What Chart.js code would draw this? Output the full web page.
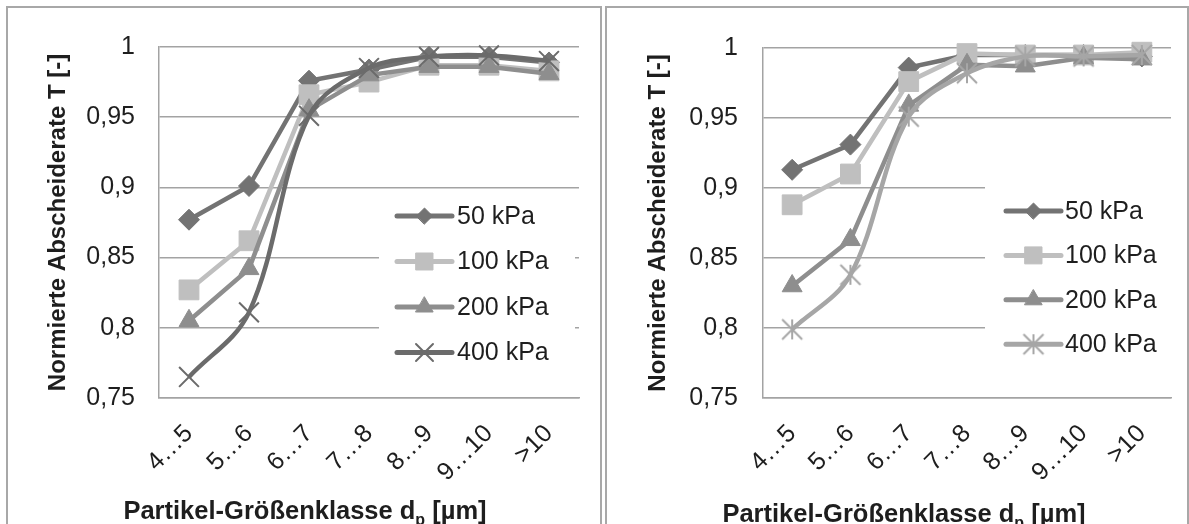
<!DOCTYPE html>
<html><head><meta charset="utf-8">
<script src="https://cdn.jsdelivr.net/npm/chart.js@4/dist/chart.umd.min.js"></script>
<style>
html,body{margin:0;padding:0;background:#fff;width:1189px;height:524px;overflow:hidden;}
.box{position:absolute;border:2px solid #a8a8a8;box-sizing:border-box;background:#fff;}
#b1{left:6px;top:6px;width:596px;height:540px;}
#b2{left:605px;top:6px;width:584px;height:540px;}
canvas{position:absolute;}
#c1{left:8px;top:8px;}
#c2{left:608px;top:8px;}
</style></head><body>
<div class="box" id="b1"></div><div class="box" id="b2"></div>
<canvas id="c1" width="590" height="516"></canvas>
<canvas id="c2" width="578" height="516"></canvas>
<script>
// ---------- data ----------
const categories = ['4\u20265','5\u20266','6\u20267','7\u20268','8\u20269','9\u202610','>10'];
const seriesNames = ['50 kPa','100 kPa','200 kPa','400 kPa'];
const yTickLabels = ['0,75','0,8','0,85','0,9','0,95','1'];
const yMin = 0.75, yMax = 1, yStep = 0.05;
const yAxisTitle = 'Normierte Abscheiderate T [-]';
const xAxisTitleMain = 'Partikel-Gr\u00f6\u00dfenklasse d';
const xAxisTitleSub = 'p';
const xAxisTitleUnit = ' [\u00b5m]';

// left chart
const left50  = [0.877, 0.901, 0.976, 0.984, 0.993, 0.993, 0.989];
const left100 = [0.827, 0.862, 0.966, 0.975, 0.987, 0.987, 0.983];
const left200 = [0.805, 0.842, 0.955, 0.980, 0.986, 0.986, 0.981];
const left400 = [0.765, 0.811, 0.951, 0.985, 0.993, 0.994, 0.990];
// right chart
const right50  = [0.913, 0.931, 0.986, 0.995, 0.995, 0.995, 0.994];
const right100 = [0.888, 0.910, 0.976, 0.996, 0.995, 0.995, 0.997];
const right200 = [0.830, 0.863, 0.959, 0.988, 0.987, 0.993, 0.992];
const right400 = [0.799, 0.838, 0.951, 0.982, 0.994, 0.994, 0.995];

// ---------- styling ----------
const FONT = '"Liberation Sans", Arial, sans-serif';
const TXT = '#1e1e1e';
const GRID = '#a3a3a3';

function makeStar(color, half) {
  const s = half * 2 + 4;
  const c = document.createElement('canvas');
  c.width = s; c.height = s;
  const g = c.getContext('2d');
  g.strokeStyle = color; g.lineWidth = 2;
  const m = s / 2;
  g.beginPath();
  g.moveTo(m, m - half); g.lineTo(m, m + half);
  g.moveTo(m - half, m - half); g.lineTo(m + half, m + half);
  g.moveTo(m + half, m - half); g.lineTo(m - half, m + half);
  g.stroke();
  return c;
}

const legendPlugin = {
  id: 'boxLegend',
  beforeDatasetsDraw(chart, args, o) {
    const ctx = chart.ctx;
    ctx.save(); ctx.fillStyle = '#fff';
    ctx.fillRect(o.box[0], o.box[1], o.box[2], o.box[3]);
    ctx.restore();
  },
  afterDatasetsDraw(chart, args, o) {
    const ctx = chart.ctx;
    chart.data.datasets.forEach((ds, i) => {
      const y = o.y0 + i * o.dy;
      ctx.save();
      ctx.strokeStyle = ds.borderColor; ctx.lineWidth = 5; ctx.lineCap = 'round';
      ctx.beginPath(); ctx.moveTo(o.x1, y); ctx.lineTo(o.x2, y); ctx.stroke();
      ctx.fillStyle = ds.pointBackgroundColor; ctx.strokeStyle = ds.pointBorderColor;
      ctx.lineWidth = ds.pointBorderWidth;
      Chart.helpers.drawPoint(ctx, {pointStyle: ds.pointStyle, radius: ds.legendRadius, rotation: 0, borderWidth: ds.pointBorderWidth}, (o.x1 + o.x2) / 2, y);
      ctx.fillStyle = TXT; ctx.font = '25px ' + FONT; ctx.textBaseline = 'middle'; ctx.textAlign = 'left';
      ctx.fillText(ds.label, o.tx, y + 1);
      ctx.restore();
    });
  }
};

const xTitlePlugin = {
  id: 'xTitle',
  afterDraw(chart, args, o) {
    const ctx = chart.ctx;
    ctx.save();
    ctx.fillStyle = TXT; ctx.textBaseline = 'alphabetic'; ctx.textAlign = 'left';
    const fMain = 'bold 25.5px ' + FONT, fSub = 'bold 16px ' + FONT;
    ctx.font = fMain; const w1 = ctx.measureText(xAxisTitleMain).width; const w3 = ctx.measureText(xAxisTitleUnit).width;
    ctx.font = fSub; const w2 = ctx.measureText(xAxisTitleSub).width;
    let x = o.cx - (w1 + w2 + w3) / 2;
    ctx.font = fMain; ctx.fillText(xAxisTitleMain, x, o.base); x += w1;
    ctx.font = fSub; ctx.fillText(xAxisTitleSub, x, o.base + 6); x += w2;
    ctx.font = fMain; ctx.fillText(xAxisTitleUnit, x, o.base);
    ctx.restore();
  }
};

function ds(label, data, color, style, radius, legendRadius, bw, tension, order) {
  return {
    label, data, borderColor: color, backgroundColor: color, borderWidth: 4.5,
    pointStyle: style, pointRadius: radius, pointHoverRadius: radius,
    pointBackgroundColor: color, pointBorderColor: color, pointBorderWidth: bw,
    legendRadius, tension, order, clip: false, fill: false
  };
}

function build(id, datasets, g) {
  return new Chart(document.getElementById(id), {
    type: 'line',
    data: { labels: categories, datasets },
    plugins: [legendPlugin, xTitlePlugin],
    options: {
      responsive: false, animation: false, devicePixelRatio: 1,
      layout: { padding: { left: 0, right: g.padRight, top: 30, bottom: 0 } },
      plugins: {
        legend: { display: false }, tooltip: { enabled: false },
        boxLegend: g.legend, xTitle: g.xTitle
      },
      scales: {
        x: {
          type: 'category', offset: true,
          grid: { display: true, color: 'rgba(0,0,0,0)', drawTicks: false },
          border: { display: true, color: GRID, width: 1.5 },
          ticks: { autoSkip: false, maxRotation: 45, minRotation: 45, padding: 21, color: TXT, font: { family: FONT, size: 25 } },
          afterFit: s => { s.height = 126; }
        },
        y: {
          min: yMin, max: yMax,
          grid: { color: GRID, lineWidth: 1.5, drawTicks: false },
          border: { display: true, color: GRID, width: 1.5 },
          ticks: { stepSize: yStep, padding: g.tickPad, color: TXT, font: { family: FONT, size: 25 },
                   callback: v => yTickLabels[Math.round((v - yMin) / yStep)] },
          title: { display: true, text: yAxisTitle, color: TXT, font: { family: FONT, size: 24, weight: 'bold' }, padding: { top: 36, bottom: 0 } },
          afterFit: s => { s.width = g.yWidth; }
        }
      }
    }
  });
}

const C50 = '#737373', C100 = '#bfbfbf', C200 = '#8e8e8e', C400L = '#6b6b6b', C400R = '#a6a6a6';

build('c1', [
  ds(seriesNames[0], left50, C50, 'rectRot', 10.5, 8, 1, 0, 4),
  ds(seriesNames[1], left100, C100, 'rect', 14, 12, 1, 0, 3),
  ds(seriesNames[2], left200, C200, 'triangle', 11.5, 10, 1, 0, 2),
  ds(seriesNames[3], left400, C400L, 'crossRot', 14, 12, 2, 0.35, 1)
], {
  padRight: 19, yWidth: 151, tickPad: 24,
  legend: { box: [371, 182, 196, 190], x1: 389, x2: 444, tx: 449, y0: 208, dy: 45.5 },
  xTitle: { cx: 297, base: 511 }
});

build('c2', [
  ds(seriesNames[0], right50, C50, 'rectRot', 10.5, 8, 1, 0, 4),
  ds(seriesNames[1], right100, C100, 'rect', 14, 12, 1, 0, 3),
  ds(seriesNames[2], right200, C200, 'triangle', 11.5, 10, 1, 0, 2),
  ds(seriesNames[3], right400, C400R, makeStar(C400R, 10), 10, 8, 2, 0.35, 1)
], {
  padRight: 12, yWidth: 155, tickPad: 25,
  legend: { box: [377, 177, 187, 190], x1: 398, x2: 453, tx: 457, y0: 203, dy: 44.4 },
  xTitle: { cx: 296, base: 514 }
});
</script>
</body></html>
